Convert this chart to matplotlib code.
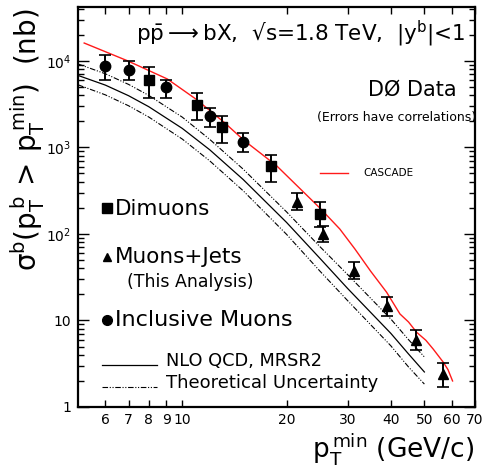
import matplotlib
matplotlib.use("Agg")
import matplotlib.pyplot as plt
from matplotlib.ticker import FixedLocator, FixedFormatter, NullFormatter, NullLocator

plt.rcParams['font.family'] = ['DejaVu Sans']
plt.rcParams['mathtext.default'] = 'regular'

# ---------------- data ----------------
# Inclusive muons (circles)
mu_pt = [6, 7, 9, 12, 15]
mu_val = [8830, 7940, 4970, 2330, 1170]
mu_hi = [11700, 10000, 6000, 2890, 1450]
mu_lo = [6050, 6000, 3750, 1740, 880]

# Dimuons (squares)
dimu_pt = [8, 11, 13, 18, 25]
dimu_val = [6040, 3120, 1740, 617, 170]
dimu_hi = [8500, 4270, 2330, 825, 236]
dimu_lo = [3750, 2100, 1125, 400, 120]

# Muons + jets (triangles)
mj_pt = [21.4, 25.5, 31.3, 38.9, 47.2, 56.7]
mj_val = [232, 100, 37.7, 14.6, 6.0, 2.4]
mj_hi = [298, 125, 47.9, 18.8, 7.8, 3.2]
mj_lo = [191, 81, 30, 11.4, 4.5, 1.69]

# NLO QCD central and theoretical uncertainty band
nlo_pt = [5, 6, 7, 8, 10, 12, 15, 20, 25, 30, 40, 45, 50]
nlo_c = [6800, 5250, 3960, 2960, 1660, 940, 425, 136, 52, 23.5, 7.1, 4.1, 2.54]
nlo_up = [9230, 7100, 5350, 4000, 2240, 1240, 560, 180, 71, 34, 10.4, 6.0, 3.79]
nlo_dn = [5300, 4050, 3030, 2250, 1250, 700, 315, 99, 37, 17, 5.1, 2.9, 1.84]

# CASCADE prediction
cas_pt = [5.21, 6.93, 9.05, 10.93, 13.2, 15.1, 18.7, 25.1, 28.5, 31.5, 35.0,
          38.9, 42.5, 45.0, 47.5, 50.5, 53.0, 56.7, 58.5, 60.3]
cas_val = [16100, 10080, 6190, 3640, 1955, 1200, 617, 195, 114, 67.1, 37.0,
           21.2, 11.9, 9.6, 7.3, 5.9, 4.68, 3.29, 2.7, 2.0]

xticks = [6, 7, 8, 9, 10, 20, 30, 40, 50, 60, 70]
xticklabels = ['6', '7', '8', '9', '10', '20', '30', '40', '50', '60', '70']
yticks = [1, 10, 100, 1000, 10000]
yticklabels = ['1', '10', '$10^2$', '$10^3$', '$10^4$']

# ---------------- figure ----------------
W, H = 485, 468
fig = plt.figure(figsize=(W / 100, H / 100), dpi=100)
L, R, T, B = 78, 475, 7, 407
ax = fig.add_axes([L / W, 1 - B / H, (R - L) / W, (B - T) / H])
ax.set_xscale('log')
ax.set_yscale('log')
ax.set_xlim(5, 70)
ax.set_ylim(1, 4.2e4)


def fpx(x, y):
    return (x / W, 1 - y / H)


def apx(x, y):
    return ((x - L) / (R - L), 1 - (y - T) / (B - T))


# theory lines
ddash = (0, (5, 1.5, 1, 1.5, 1, 1.5))
ax.plot(nlo_pt, nlo_c, color='black', lw=0.9)
ax.plot(nlo_pt, nlo_up, color='black', lw=0.8, linestyle=ddash)
ax.plot(nlo_pt, nlo_dn, color='black', lw=0.8, linestyle=ddash)
ax.plot(cas_pt, cas_val, color='#ff1a1a', lw=1.0)


def errs(v, hi, lo):
    return [[a - b for a, b in zip(v, lo)], [b - a for a, b in zip(v, hi)]]


ekw = dict(ls='none', color='black', ecolor='black', elinewidth=1.4,
           capsize=4.5, capthick=1.2, zorder=5)
ax.errorbar(mu_pt, mu_val, yerr=errs(mu_val, mu_hi, mu_lo), marker='o', ms=7.5, **ekw)
ax.errorbar(dimu_pt, dimu_val, yerr=errs(dimu_val, dimu_hi, dimu_lo), marker='s', ms=6.5, **ekw)
ax.errorbar(mj_pt, mj_val, yerr=errs(mj_val, mj_hi, mj_lo), marker='^', ms=7, **ekw)

# ticks
ax.xaxis.set_major_locator(FixedLocator(xticks))
ax.xaxis.set_major_formatter(FixedFormatter(xticklabels))
ax.xaxis.set_minor_locator(NullLocator())
ax.xaxis.set_minor_formatter(NullFormatter())
ax.yaxis.set_major_locator(FixedLocator(yticks))
ax.yaxis.set_major_formatter(FixedFormatter(yticklabels))
ax.tick_params(which='both', direction='in', top=True, right=True, width=1.0)
ax.tick_params(axis='x', which='major', length=5, labelsize=10, pad=4)
ax.tick_params(axis='y', which='major', length=8, labelsize=10, pad=5)
ax.tick_params(axis='y', which='minor', length=4)
for s in ax.spines.values():
    s.set_linewidth(1.6)

# header texts
fig.text(*fpx(136, 34), r"p$\bar{\rm p}$$\longrightarrow$bX,  √s=1.8 TeV,  |y$^{\rm b}$|<1",
         fontsize=15.5, va='center', ha='left')
fig.text(*fpx(412, 90), "DØ Data", fontsize=15, ha='center', va='center')
fig.text(*fpx(476, 118), "(Errors have correlations)", fontsize=9, ha='right',
         va='center')

# CASCADE legend
ax.plot([apx(320, 0)[0], apx(348, 0)[0]], [apx(0, 173)[1]] * 2, transform=ax.transAxes,
        color='#ff1a1a', lw=1.0)
fig.text(*fpx(363, 173), "CASCADE", fontsize=7.5, ha='left', va='center')

# data legend
ax.plot(*apx(107, 208), 's', color='black', ms=7, transform=ax.transAxes)
fig.text(*fpx(115, 209), "Dimuons", fontsize=15.5, ha='left', va='center')
ax.plot(*apx(107, 257), '^', color='black', ms=6, transform=ax.transAxes)
fig.text(*fpx(115, 257), "Muons+Jets", fontsize=15.5, ha='left', va='center')
fig.text(*fpx(127, 282), "(This Analysis)", fontsize=12.5, ha='left', va='center')
ax.plot(*apx(107, 320), 'o', color='black', ms=7, transform=ax.transAxes)
fig.text(*fpx(115, 320), "Inclusive Muons", fontsize=16, ha='left', va='center')

ax.plot([apx(102, 0)[0], apx(157, 0)[0]], [apx(0, 365)[1]] * 2,
        color='black', lw=0.9, transform=ax.transAxes)
fig.text(*fpx(166, 361), "NLO QCD, MRSR2", fontsize=12.8, ha='left', va='center')
ax.plot([apx(102, 0)[0], apx(157, 0)[0]], [apx(0, 387)[1]] * 2,
        color='black', lw=0.8, linestyle=ddash, transform=ax.transAxes)
fig.text(*fpx(166, 383), "Theoretical Uncertainty", fontsize=13, ha='left', va='center')

# axis labels
fig.text(*fpx(28, 140), r"$\sigma^{\rm b}(\rm p_T^{\,b}\,>\,p_T^{\,min})$  (nb)",
         fontsize=20, rotation=90, ha='center', va='center')
fig.text(*fpx(474, 449), r"$\rm p_T^{\,min}$ (GeV/c)", fontsize=19, ha='right', va='center')

fig.savefig('out.png', dpi=100)
